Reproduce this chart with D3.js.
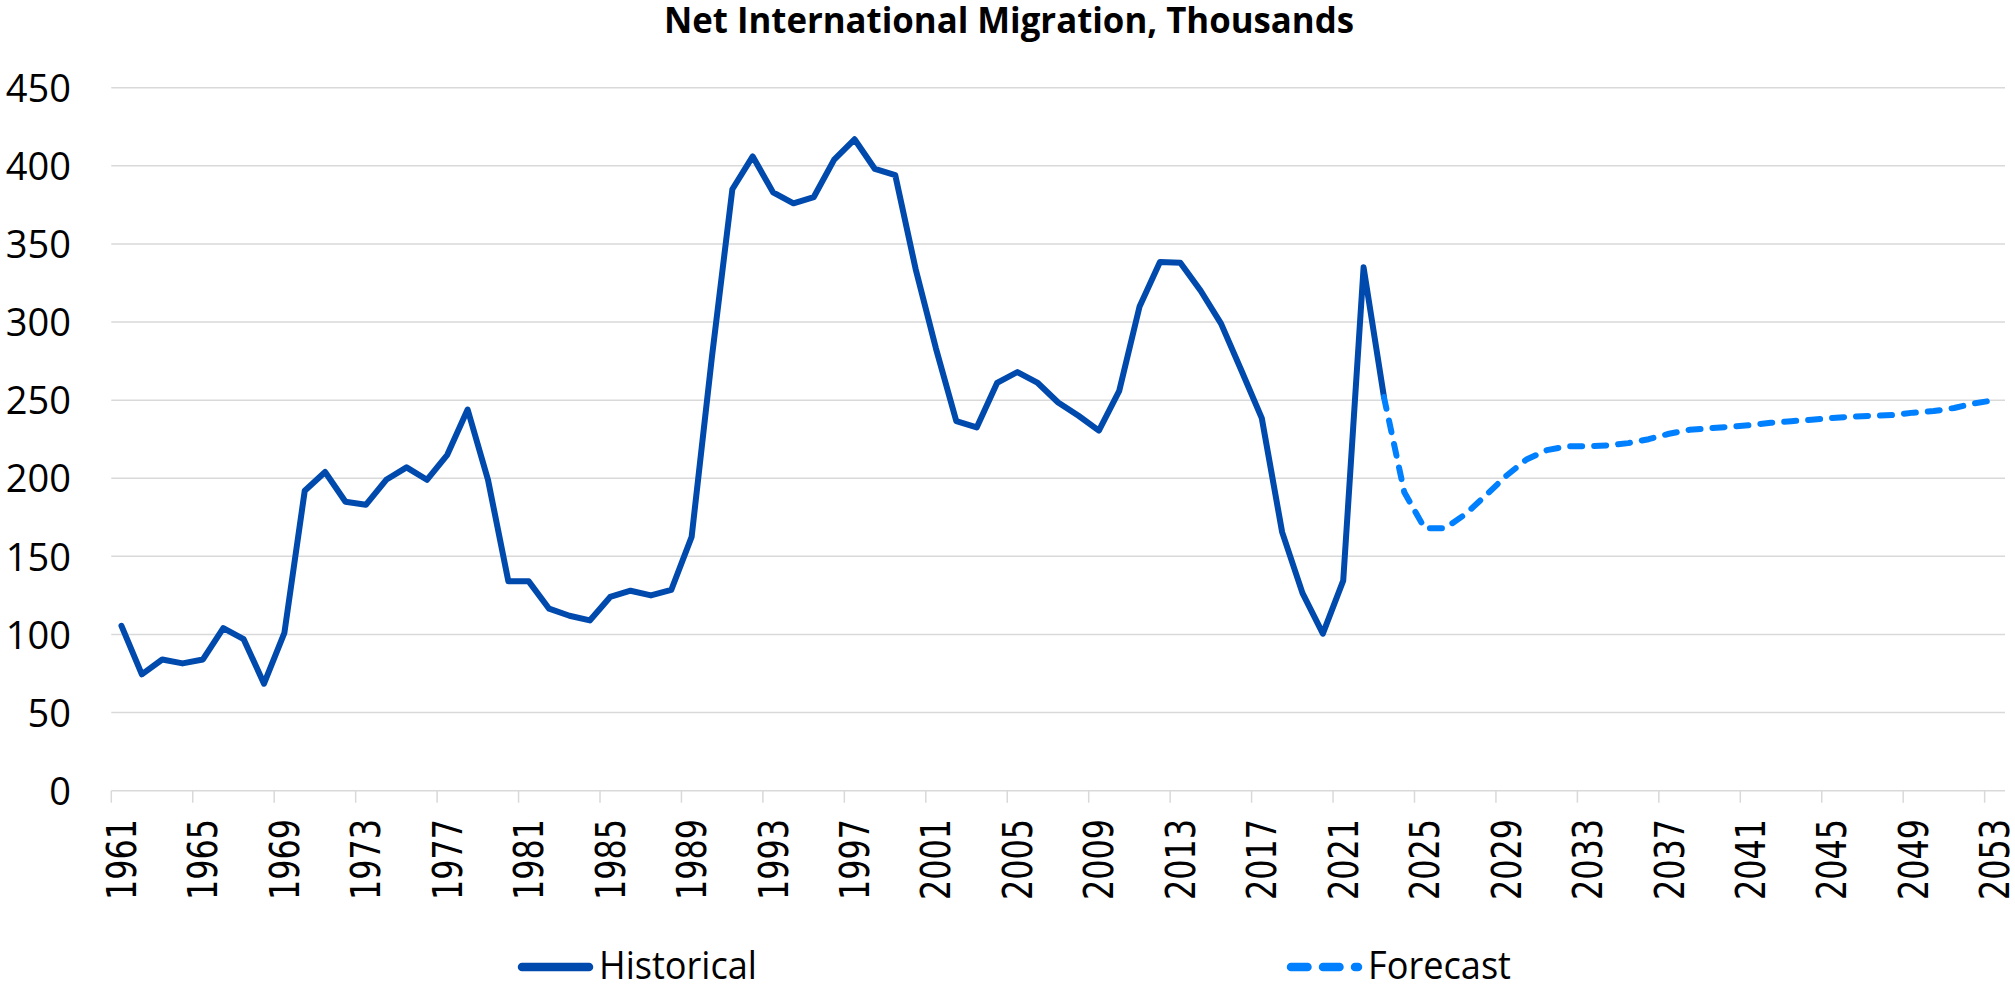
<!DOCTYPE html>
<html>
<head>
<meta charset="utf-8">
<script src="https://cdn.jsdelivr.net/npm/d3@7"></script>
<style>
  body { margin: 0; background: #fff; }
  svg { display: block; }
</style>
</head>
<body>
<div id="chart"></div>
<script>
// years on the category axis
var years = [1961, 1962, 1963, 1964, 1965, 1966, 1967, 1968, 1969, 1970,
    1971, 1972, 1973, 1974, 1975, 1976, 1977, 1978, 1979, 1980,
    1981, 1982, 1983, 1984, 1985, 1986, 1987, 1988, 1989, 1990,
    1991, 1992, 1993, 1994, 1995, 1996, 1997, 1998, 1999, 2000,
    2001, 2002, 2003, 2004, 2005, 2006, 2007, 2008, 2009, 2010,
    2011, 2012, 2013, 2014, 2015, 2016, 2017, 2018, 2019, 2020,
    2021, 2022, 2023, 2024, 2025, 2026, 2027, 2028, 2029, 2030,
    2031, 2032, 2033, 2034, 2035, 2036, 2037, 2038, 2039, 2040,
    2041, 2042, 2043, 2044, 2045, 2046, 2047, 2048, 2049, 2050,
    2051, 2052, 2053];

// historical, 1961 - 2023
var historical = [105.5, 74.5, 84, 81.5, 84, 104, 97, 68.5, 101, 192,
    204, 185, 183, 199, 207, 199, 215, 244, 199, 134,
    134, 116.5, 112, 109, 124, 128, 125, 128.5, 162.5, 278,
    385, 406, 383, 376, 380, 404, 417, 398, 394, 334,
    283, 236.5, 232.5, 261, 268, 261, 248.5, 240, 230.5, 256,
    310, 338.5, 338, 320, 299, 269, 238.5, 165.5, 126.5, 100.5,
    134.5, 335, 252];

// forecast, 2023 - 2053
var forecastStart = 2023;
var forecast = [252, 191, 168, 168, 177, 189, 201.5, 212, 218, 220.5,
    220.5, 221, 222.5, 225, 228.5, 231, 232, 233, 234, 235.5,
    236.5, 237.5, 238.5, 239.5, 240, 240.5, 242, 243, 245, 248,
    250];

var tickYears = [1961, 1965, 1969, 1973, 1977, 1981, 1985, 1989, 1993, 1997,
    2001, 2005, 2009, 2013, 2017, 2021, 2025, 2029, 2033, 2037,
    2041, 2045, 2049, 2053];
var yTicks = [0, 50, 100, 150, 200, 250, 300, 350, 400, 450];

var histData = historical.map(function(v, i) { return [years[i], v]; });
var foreData = forecast.map(function(v, i) { return [forecastStart + i, v]; });

var width = 2015, height = 986;
var svg = d3.select("#chart").append("svg").attr("width", width).attr("height", height);

var x = d3.scaleBand().domain(years).range([111.3, 2005]).paddingInner(0).paddingOuter(0);
var y = d3.scaleLinear().domain([0, 450]).range([790.7, 87.7]);
var cx = function(yr) { return x(yr) + x.bandwidth() / 2; };

// title
svg.append("text")
    .attr("x", 1009).attr("y", 33.3)
    .attr("text-anchor", "middle")
    .attr("textLength", 690).attr("lengthAdjust", "spacingAndGlyphs")
    .style("font-family", "'Open Sans'").style("font-weight", "bold").style("font-size", "36.5px")
    .style("fill", "#000")
    .text("Net International Migration, Thousands");

// gridlines
svg.append("g").selectAll("line")
    .data(yTicks)
    .enter().append("line")
    .attr("x1", 111.3).attr("x2", 2005)
    .attr("y1", d => y(d)).attr("y2", d => y(d))
    .style("stroke", "#d9d9d9").style("stroke-width", 1.5);

// y axis labels
var yAxis = d3.axisLeft(y).tickValues(yTicks).tickSize(0).tickPadding(0);
svg.append("g").attr("class", "yAxis").attr("transform", "translate(71,0)").call(yAxis)
    .call(g => g.select(".domain").remove())
    .selectAll("text")
    .attr("dy", "0.36em")
    .style("font-family", "'Open Sans'").style("font-size", "38px").style("fill", "#000");

// x axis: ticks on band edges, labels at band centres
var xAxis = d3.axisBottom(x).tickValues(tickYears).tickSize(12).tickSizeOuter(0).tickPadding(0);
var gx = svg.append("g").attr("class", "xAxis").attr("transform", "translate(0," + y(0) + ")").call(xAxis);
gx.select(".domain").remove();
gx.selectAll(".tick line")
    .attr("transform", "translate(" + (-x.bandwidth() / 2) + ",0)")
    .style("stroke", "#d9d9d9").style("stroke-width", 1.5);
gx.selectAll(".tick text")
    .attr("transform", "rotate(-90)")
    .attr("x", -28.3).attr("y", 14.5).attr("dy", 0)
    .attr("textLength", 81).attr("lengthAdjust", "spacingAndGlyphs")
    .style("text-anchor", "end")
    .style("font-family", "'DejaVu Sans'").style("font-size", "40px").style("fill", "#000");

var line = d3.line().x(d => cx(d[0])).y(d => y(d[1]));

svg.append("path").datum(histData)
    .attr("d", line)
    .style("fill", "none").style("stroke", "#004aad").style("stroke-width", 6)
    .style("stroke-linejoin", "round").style("stroke-linecap", "round");

svg.append("path").datum(foreData)
    .attr("d", line)
    .style("fill", "none").style("stroke", "#0080ff").style("stroke-width", 6)
    .style("stroke-dasharray", "12,12")
    .style("stroke-linejoin", "round").style("stroke-linecap", "round");

// legend
var legend = svg.append("g").attr("class", "legend");
legend.append("line").attr("x1", 522).attr("x2", 589).attr("y1", 967).attr("y2", 967)
    .style("stroke", "#004aad").style("stroke-width", 8.5).style("stroke-linecap", "round");
legend.append("text").attr("x", 599).attr("y", 979)
    .attr("textLength", 158).attr("lengthAdjust", "spacingAndGlyphs")
    .style("font-family", "'Open Sans'").style("font-size", "38px").style("fill", "#000")
    .text("Historical");
legend.append("line").attr("x1", 1291).attr("x2", 1358).attr("y1", 967).attr("y2", 967)
    .style("stroke", "#0080ff").style("stroke-width", 8.5).style("stroke-linecap", "round")
    .style("stroke-dasharray", "16.5,15.5");
legend.append("text").attr("x", 1368).attr("y", 979)
    .attr("textLength", 143).attr("lengthAdjust", "spacingAndGlyphs")
    .style("font-family", "'Open Sans'").style("font-size", "38px").style("fill", "#000")
    .text("Forecast");
</script>
</body>
</html>
